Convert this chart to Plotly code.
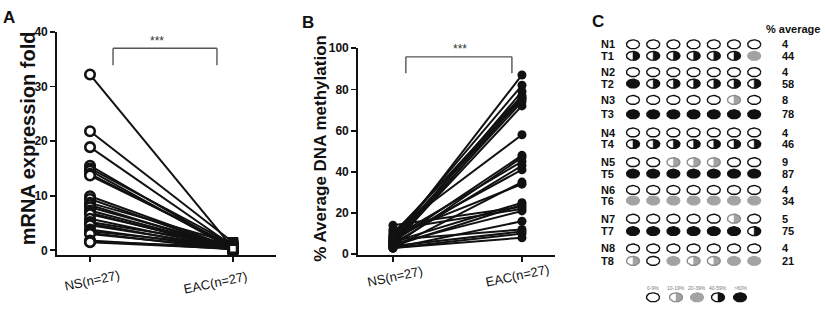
import numpy as np
import plotly.graph_objects as go

W, H = 825, 311

# ---------------- data ----------------
categories = ["NS(n=27)", "EAC(n=27)"]

ns_mrna = [32.2, 21.8, 18.9, 15.5, 15.0, 14.6, 14.0, 13.7, 9.9, 9.4, 8.7, 8.3, 7.9, 7.3,
           6.9, 6.6, 5.8, 5.2, 4.9, 4.6, 3.8, 3.5, 3.2, 3.0, 1.8, 1.6, 1.5]
eac_mrna = [0.4, 1.5, 0.8, 0.3, 1.1, 0.2, 0.6, 0.9, 0.5, 0.3, 1.3, 0.2, 0.7, 0.4,
            0.1, 0.6, 0.3, 1.0, 0.2, 0.5, 0.3, 0.8, 0.1, 0.4, 0.2, 0.6, 0.3]

ns_meth = [6, 8, 5, 9, 7, 4, 10, 6, 5, 11, 6, 4, 8, 5, 7, 3, 9, 6, 4, 14, 12, 5, 3, 7, 4, 3, 3]
eac_meth = [87, 82, 79, 77, 76, 76, 75, 74, 72, 58, 48, 47, 45, 43, 41, 35, 34, 25, 24, 23,
            22, 21, 16, 12, 11, 10, 8]

yticks_mrna = [0, 10, 20, 30, 40]
yticks_meth = [0, 20, 40, 60, 80, 100]

# panel C: methylation class per CpG site (0: 0-9%, 1: 10-19%, 2: 20-39%, 3: 40-59%, 4: >60%)
pair_names_N = ["N1", "N2", "N3", "N4", "N5", "N6", "N7", "N8"]
pair_names_T = ["T1", "T2", "T3", "T4", "T5", "T6", "T7", "T8"]
pattern_N = [
    [0, 0, 0, 0, 0, 0, 0],
    [0, 0, 0, 0, 0, 0, 0],
    [0, 0, 0, 0, 0, 1, 0],
    [0, 0, 0, 0, 0, 0, 0],
    [0, 0, 1, 1, 1, 0, 0],
    [0, 0, 0, 0, 0, 0, 0],
    [0, 0, 0, 0, 0, 1, 0],
    [0, 0, 0, 0, 0, 0, 0],
]
pattern_T = [
    [3, 3, 3, 3, 3, 3, 2],
    [4, 3, 3, 3, 3, 3, 3],
    [4, 4, 4, 4, 4, 4, 4],
    [3, 3, 3, 3, 3, 3, 3],
    [4, 4, 4, 4, 4, 4, 4],
    [2, 2, 2, 2, 2, 2, 2],
    [4, 4, 4, 4, 4, 4, 3],
    [1, 0, 2, 1, 1, 2, 2],
]
avg_N = [4, 4, 8, 4, 9, 4, 5, 4]
avg_T = [44, 58, 78, 46, 87, 34, 75, 21]
legend_labels = ["0-9%", "10-19%", "20-39%", "40-59%", ">60%"]
legend_codes = [0, 1, 2, 3, 4]

# ---------------- helpers ----------------
def px(x):
    return x / W

def py(y):
    return 1 - y / H

FONT = "Liberation Sans, Arial, sans-serif"
BLACK = "#111111"
GRAY = "#a3a3a3"

fig = go.Figure()

# ---------- Panel A ----------
lx, ly = [], []
for a, b in zip(ns_mrna, eac_mrna):
    lx += [0, 1, None]
    ly += [a, b, None]
fig.add_trace(go.Scatter(x=lx, y=ly, mode="lines", line=dict(color=BLACK, width=2),
                         xaxis="x", yaxis="y", hoverinfo="skip", showlegend=False))
fig.add_trace(go.Scatter(x=[0] * len(ns_mrna), y=ns_mrna, mode="markers",
                         marker=dict(symbol="circle", size=9.5, color="white",
                                     line=dict(color=BLACK, width=2.6)),
                         xaxis="x", yaxis="y", showlegend=False))
fig.add_trace(go.Scatter(x=[1] * len(eac_mrna), y=eac_mrna, mode="markers",
                         marker=dict(symbol="square", size=8, color="white",
                                     line=dict(color=BLACK, width=2.5)),
                         xaxis="x", yaxis="y", showlegend=False))

# ---------- Panel B ----------
lx, ly = [], []
for a, b in zip(ns_meth, eac_meth):
    lx += [0, 1, None]
    ly += [a, b, None]
fig.add_trace(go.Scatter(x=lx, y=ly, mode="lines", line=dict(color=BLACK, width=2),
                         xaxis="x2", yaxis="y2", hoverinfo="skip", showlegend=False))
fig.add_trace(go.Scatter(x=[0] * len(ns_meth), y=ns_meth, mode="markers",
                         marker=dict(symbol="circle", size=9, color=BLACK),
                         xaxis="x2", yaxis="y2", showlegend=False))
fig.add_trace(go.Scatter(x=[1] * len(eac_meth), y=eac_meth, mode="markers",
                         marker=dict(symbol="circle", size=9, color=BLACK),
                         xaxis="x2", yaxis="y2", showlegend=False))

# ---------- Panel C (pixel-unit axes) ----------
col_x0, col_dx = 633.0, 20.2
rows_N_y = [39, 68, 97, 131, 162, 191, 221, 252]
rows_T_y = [51, 80, 112, 143, 174, 202, 234, 265]
rx, ry = 6.5, 4.7
t_full = np.linspace(0, 2 * np.pi, 41)
t_half = np.linspace(-np.pi / 2, np.pi / 2, 21)

cells = []  # (cx, cy, code)
for r in range(len(pattern_N)):
    for c, code in enumerate(pattern_N[r]):
        cells.append((col_x0 + c * col_dx, rows_N_y[r], code))
    for c, code in enumerate(pattern_T[r]):
        cells.append((col_x0 + c * col_dx, rows_T_y[r], code))
leg_x = [653, 676, 697, 718, 740]
leg_y = 303
for lxp, code in zip(leg_x, legend_codes):
    cells.append((lxp, leg_y, code))

def poly(cx, cy, t, close=True):
    xs = list(cx + rx * np.cos(t))
    ys = list(cy + ry * np.sin(t))
    if close:
        xs.append(xs[0]); ys.append(ys[0])
    return xs + [None], ys + [None]

groups = {k: ([], []) for k in ["fullgray", "fullblack", "halfgray", "halfblack",
                                 "outblack", "outgray", "white"]}
def add(key, pts):
    groups[key][0].extend(pts[0]); groups[key][1].extend(pts[1])

for cx, cy, code in cells:
    if code == 0:
        add("white", poly(cx, cy, t_full))
        add("outblack", poly(cx, cy, t_full))
    elif code == 1:
        add("white", poly(cx, cy, t_full))
        add("halfgray", poly(cx, cy, t_half))
        add("outgray", poly(cx, cy, t_full))
    elif code == 2:
        add("fullgray", poly(cx, cy, t_full))
    elif code == 3:
        add("white", poly(cx, cy, t_full))
        add("halfblack", poly(cx, cy, t_half))
        add("outblack", poly(cx, cy, t_full))
    else:
        add("fullblack", poly(cx, cy, t_full))

fill_styles = [
    ("white", "white", "white", 0.5),
    ("fullgray", GRAY, GRAY, 1.2),
    ("fullblack", BLACK, BLACK, 1.2),
    ("halfgray", GRAY, GRAY, 0.5),
    ("halfblack", BLACK, BLACK, 0.5),
]
for key, fc, lc, lw in fill_styles:
    xs, ys = groups[key]
    if xs:
        fig.add_trace(go.Scatter(x=xs, y=ys, mode="lines", fill="toself", fillcolor=fc,
                                 line=dict(color=lc, width=lw), xaxis="x3", yaxis="y3",
                                 hoverinfo="skip", showlegend=False))
for key, lc in [("outblack", BLACK), ("outgray", "#8c8c8c")]:
    xs, ys = groups[key]
    if xs:
        fig.add_trace(go.Scatter(x=xs, y=ys, mode="lines", line=dict(color=lc, width=1.4),
                                 xaxis="x3", yaxis="y3", hoverinfo="skip", showlegend=False))

# ---------------- layout ----------------
tickfont = dict(family=FONT, size=12, color=BLACK, weight="bold")
axis_common = dict(showgrid=False, zeroline=False, showline=True, linecolor=BLACK,
                   linewidth=1.8, ticks="outside", ticklen=5, tickwidth=1.8,
                   tickcolor=BLACK, tickfont=tickfont)

fig.update_layout(
    width=W, height=H, margin=dict(l=0, r=0, t=0, b=0),
    paper_bgcolor="white", plot_bgcolor="rgba(0,0,0,0)", showlegend=False,
    xaxis=dict(domain=[px(57), px(276)], range=[-0.231, 1.301], tickvals=[0, 1],
               ticktext=["", ""], anchor="y", **axis_common),
    yaxis=dict(domain=[py(259), py(26)], range=[-0.88, 40], tickvals=yticks_mrna,
               anchor="x", **axis_common),
    xaxis2=dict(domain=[px(358), px(555)], range=[-0.271, 1.256], tickvals=[0, 1],
                ticktext=["", ""], anchor="y2", **axis_common),
    yaxis2=dict(domain=[py(259), py(43)], range=[-0.47, 100], tickvals=yticks_meth,
                anchor="x2", **axis_common),
    xaxis3=dict(domain=[px(570), 1], range=[570, 825], visible=False, anchor="y3"),
    yaxis3=dict(domain=[0, 1], range=[311, 0], visible=False, anchor="x3"),
)

ann = []
def text(x, y, s, size, bold=True, color=BLACK, angle=0, xanchor="center", xref="paper", yref="paper"):
    ann.append(dict(x=x, y=y, xref=xref, yref=yref, text=s, showarrow=False,
                    textangle=angle, xanchor=xanchor, yanchor="middle",
                    font=dict(family=FONT, size=size, color=color,
                              weight="bold" if bold else "normal")))

# panel letters
text(px(9), py(11), "A", 17)
text(px(308), py(16), "B", 17)
text(px(598), py(15), "C", 17)

# axis titles
text(px(28), py(137), "mRNA expression fold", 20, angle=-90)
text(px(321), py(148), "% Average DNA methylation", 17, angle=-90)

# category labels (slightly rotated)
text(0, py(285), categories[0], 13, bold=False, angle=-12, xref="x")
ann[-1]["xshift"] = 2
text(1, py(287), categories[1], 13, bold=False, angle=-12, xref="x")
ann[-1]["xshift"] = -17
text(0, py(281), categories[0], 13, bold=False, angle=-12, xref="x2")
ann[-1]["xshift"] = 2
text(1, py(280), categories[1], 13, bold=False, angle=-12, xref="x2")
ann[-1]["xshift"] = -4

# significance
text(px(157), py(35), "***", 12, bold=False, color="#333")
text(px(460), py(44), "***", 12, bold=False, color="#333")

shapes = []
def bracket(xr, yr, x0, x1, ytop, ybot):
    for (a, b, c, d) in [(x0, ytop, x1, ytop), (x0, ytop, x0, ybot), (x1, ytop, x1, ybot)]:
        shapes.append(dict(type="line", xref=xr, yref=yr, x0=a, y0=b, x1=c, y1=d,
                           line=dict(color="#555", width=1.4)))
bracket("x", "y", 0.161, 0.888, 37.0, 33.9)
bracket("x2", "y2", 0.10, 0.922, 95.8, 87.9)

# panel C text
text(px(822), py(23), "% average", 11, xanchor="right")
for r in range(len(pair_names_N)):
    text(px(599), py(rows_N_y[r]), pair_names_N[r], 11, xanchor="left")
    text(px(599), py(rows_T_y[r]), pair_names_T[r], 11, xanchor="left")
    text(px(780), py(rows_N_y[r]), str(avg_N[r]), 11, xanchor="left")
    text(px(780), py(rows_T_y[r]), str(avg_T[r]), 11, xanchor="left")
for lxp, lab in zip(leg_x, legend_labels):
    text(px(lxp), py(293), lab, 5, bold=False, color="#777")

fig.update_layout(annotations=ann, shapes=shapes)
fig.write_html("out.html", config={"displayModeBar": False, "staticPlot": True},
               post_script="document.body.style.margin='0';document.body.style.padding='0';"
                           "document.body.style.overflow='hidden';")
